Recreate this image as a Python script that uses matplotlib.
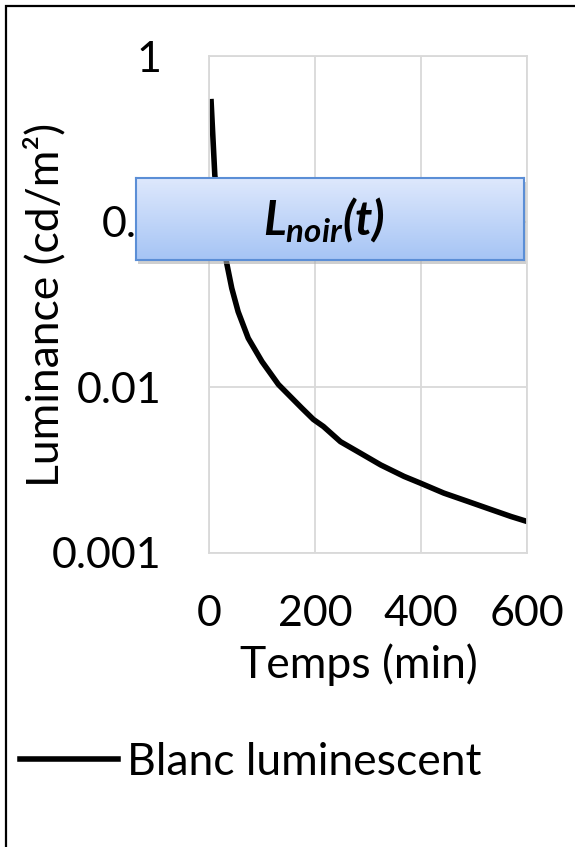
import matplotlib
matplotlib.use('Agg')
import matplotlib.pyplot as plt
import numpy as np
from matplotlib.patches import Rectangle

plt.rcParams['font.family'] = ['Lato', 'DejaVu Sans']
plt.rcParams['mathtext.fontset'] = 'custom'
plt.rcParams['mathtext.it'] = 'Lato:italic:bold'
plt.rcParams['mathtext.rm'] = 'Lato:italic:bold'

# data
temps = [4, 11, 33, 43, 55, 74, 100, 131, 175, 197, 216, 248, 286, 324,
         368, 399, 443, 488, 532, 570, 600]
luminance = [0.53, 0.19, 0.057, 0.0396, 0.0286, 0.0198, 0.0143, 0.0104, 0.0075,
             0.0064, 0.0058, 0.0047, 0.0040, 0.0034, 0.0029, 0.00264, 0.0023,
             0.00205, 0.00183, 0.00166, 0.00155]
xticks = [0, 200, 400, 600]
yticks = [0.001, 0.01, 0.1, 1]
ytick_labels = ['0.001', '0.01', '0.1', '1']

W, H = 575, 847
fig = plt.figure(figsize=(W / 100, H / 100), dpi=100)
ax = fig.add_axes([209 / W, 1 - 553 / H, (527 - 209) / W, (553 - 56) / H])

ax.plot(temps, luminance, color='black', lw=4, label='Blanc luminescent',
        solid_joinstyle='round')
ax.set_yscale('log')
ax.set_xlim(0, 600)
ax.set_ylim(0.001, 1)
ax.set_xticks(xticks)
ax.set_yticks(yticks, ytick_labels)
ax.minorticks_off()
ax.grid(True, color='#d9d9d9', lw=1.3)
for s in ax.spines.values():
    s.set_color('#d9d9d9')
    s.set_linewidth(1.3)
ax.tick_params(axis='both', length=0, labelsize=31)
ax.tick_params(axis='y', pad=34)
ax.tick_params(axis='x', pad=30)

fig.text(45 / W, 1 - 305 / H, 'Luminance (cd/m²)', rotation=90, ha='center', va='center', fontsize=32)
fig.text(359 / W, 1 - 665 / H, 'Temps (min)', ha='center', va='center', fontsize=32)

# legend
fig.legend(loc='center left', bbox_to_anchor=(20 / W, 1 - 762 / H), frameon=False,
           fontsize=32, handlelength=2.2, handletextpad=0.2, borderpad=0, borderaxespad=0)

# blue box with gradient
bx0, by0, bx1, by1 = 136 / W, 1 - 260 / H, 524 / W, 1 - 178 / H
shadow = Rectangle((bx0 + 2 / W, by0 - 4 / H), bx1 - bx0, by1 - by0, transform=fig.transFigure,
                   facecolor='#b0b0b0', edgecolor='none', alpha=0.6, zorder=5)
fig.add_artist(shadow)
grad = np.linspace(0, 1, 100).reshape(-1, 1)
top = np.array([0.87, 0.91, 0.99])
bot = np.array([0.65, 0.77, 0.96])
img = top * (1 - grad[..., None]) + bot * grad[..., None]
gax = fig.add_axes([bx0, by0, bx1 - bx0, by1 - by0], zorder=6)
gax.imshow(img, aspect='auto', extent=[0, 1, 0, 1])
gax.set_xticks([])
gax.set_yticks([])
for s in gax.spines.values():
    s.set_color('#5b8ed6')
    s.set_linewidth(1.5)
gax.text(0.485, 0.5, r'$L_{noir}(t)$', ha='center', va='center', fontsize=34, transform=gax.transAxes)

# outer frame
frame = Rectangle((6 / W, -0.1), 1.2, 1.1 - 6 / H, transform=fig.transFigure,
                  fill=False, edgecolor='black', lw=1.6, zorder=10)
fig.add_artist(frame)

fig.savefig('out.png', dpi=100)
